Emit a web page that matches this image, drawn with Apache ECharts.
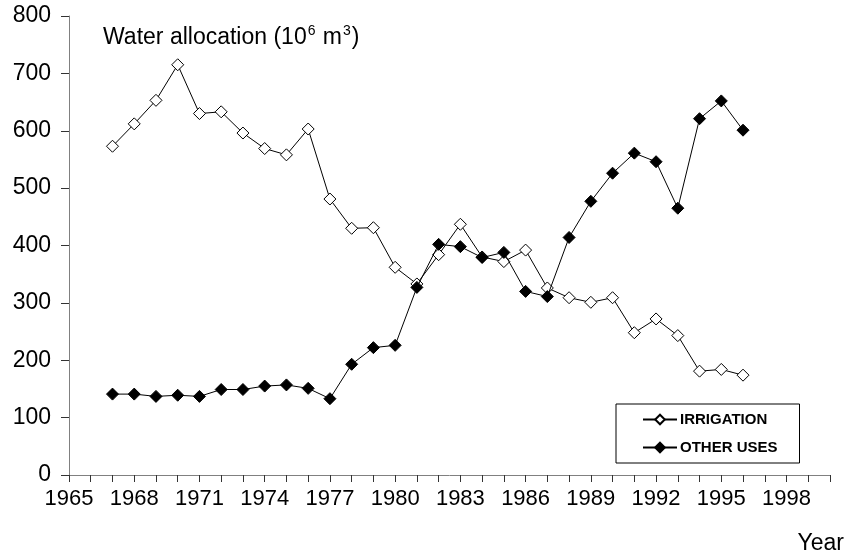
<!DOCTYPE html>
<html>
<head>
<meta charset="utf-8">
<script src="https://cdn.jsdelivr.net/npm/echarts@6/dist/echarts.min.js"></script>
<style>
html,body{margin:0;padding:0;background:#fff;}
#main{width:849px;height:552px;}
</style>
</head>
<body>
<div id="main"></div>
<script>
// years 1967..1996
var years=[1967,1968,1969,1970,1971,1972,1973,1974,1975,1976,1977,1978,1979,1980,1981,
           1982,1983,1984,1985,1986,1987,1988,1989,1990,1991,1992,1993,1994,1995,1996];
var irrigation=[573,612,653,715,630,633,596,569,558,603,481,430,431,362,333,
                384,437,380,372,392,326,309,301,309,248,272,243,181,184,174];
var otherUses=[141,141,137,139,137,149,149,155,157,151,133,193,222,226,327,
               402,398,379,388,320,311,414,477,526,561,546,465,621,652,601];
var xMin=1965, xMax=2000, labelStep=3;

var pairs=function(xs,ys){
  var out=[];
  for(var i=0;i<xs.length;i++){ out.push([xs[i],ys[i]]); }
  return out;
};

var myChart=echarts.init(document.getElementById('main'));
var font='Arial, "Liberation Sans", sans-serif';
var option={
  backgroundColor:'#fff',
  animation:false,
  title:[{
    text:'{a|Water allocation (10}{s|6}{a| m}{s|3}{a|)}',
    left:98, top:19,
    textStyle:{
      fontWeight:'normal',
      rich:{
        a:{fontFamily:font,fontSize:23,fontWeight:'normal',color:'#000',verticalAlign:'bottom'},
        s:{fontFamily:font,fontSize:14,fontWeight:'normal',color:'#000',verticalAlign:'bottom',padding:[0,1,11,1]}
      }
    }
  },{
    text:'Year', right:0, top:527,
    textStyle:{fontFamily:font,fontSize:23,fontWeight:'normal',color:'#000'}
  }],
  legend:{
    orient:'vertical',
    left:616, top:404,
    padding:[8,22,8,26],
    itemGap:13,
    itemWidth:34, itemHeight:12,
    borderColor:'#000', borderWidth:1,
    textStyle:{fontFamily:'"Liberation Sans Narrow", "Arial Narrow", '+font,fontSize:15,fontWeight:'bold',color:'#000',padding:[0,0,0,-2]},
    data:['IRRIGATION','OTHER USES']
  },
  grid:{left:69,right:19,top:16,bottom:77},
  xAxis:{
    type:'value', min:xMin, max:xMax, interval:1,
    axisLine:{lineStyle:{color:'#808080',width:1}},
    axisTick:{length:7,lineStyle:{color:'#333'}},
    splitLine:{show:false},
    axisLabel:{
      fontFamily:font,fontSize:22,color:'#000',margin:13,
      formatter:function(v){ return ((v-xMin)%labelStep===0 && v<xMax) ? String(v) : ''; }
    }
  },
  yAxis:{
    type:'value', min:0, max:800, interval:100,
    axisLine:{show:true,lineStyle:{color:'#808080',width:1}},
    axisTick:{show:true,length:8,lineStyle:{color:'#333'}},
    splitLine:{show:false},
    axisLabel:{fontFamily:font,fontSize:23,color:'#000',margin:18}
  },
  series:[{
    name:'IRRIGATION', type:'line',
    data:pairs(years,irrigation),
    symbol:'diamond', symbolSize:12,
    lineStyle:{color:'#000',width:1},
    itemStyle:{color:'#fff',borderColor:'#000',borderWidth:1},
    z:3
  },{
    name:'OTHER USES', type:'line',
    data:pairs(years,otherUses),
    symbol:'diamond', symbolSize:12,
    lineStyle:{color:'#000',width:1},
    itemStyle:{color:'#000',borderColor:'#000',borderWidth:1},
    z:4
  }]
};
myChart.setOption(option);
</script>
</body>
</html>
